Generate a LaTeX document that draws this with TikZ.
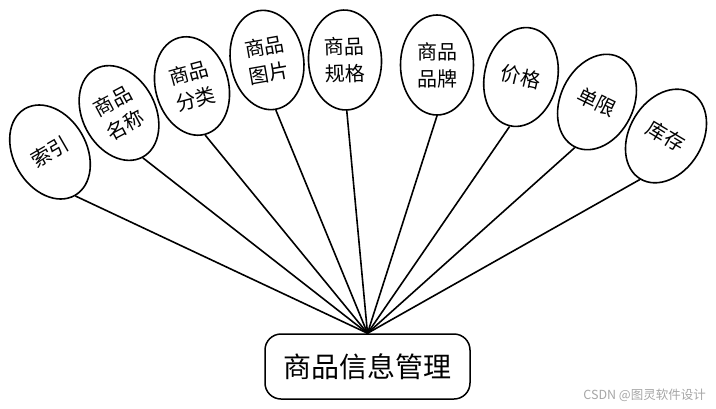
\documentclass[tikz,border=0pt]{standalone}
\usepackage{fontspec}
\newfontfamily\cjk{Noto Sans CJK SC}
\usetikzlibrary{shapes.geometric}
\tikzset{
  attr/.style={draw=black, line width=1.6pt, ellipse, inner sep=0pt,
    minimum width=73pt, minimum height=100pt, align=center,
    font=\cjk\fontsize{20}{27}\selectfont},
  main/.style={draw=black, line width=1.5pt, rounded corners=16pt,
    minimum width=205pt, minimum height=65pt, inner sep=0pt,
    font=\cjk\fontsize{28}{32}\selectfont},
  link/.style={draw=black, line width=1.6pt},
}
\begin{document}
\begin{tikzpicture}[x=1pt,y=-1pt]
\useasboundingbox (0,0) rectangle (716,408);
\node[main] (m) at (367.5,366.5) {商品信息管理};
\node[attr, rotate=30] (a1) at (50,152) {索引};
\node[attr, rotate=28] (a2) at (119,113) {商品\\名称};
\node[attr, rotate=15] (a3) at (192,86) {商品\\分类};
\node[attr, rotate=10] (a4) at (267,60) {商品\\图片};
\node[attr, rotate=2] (a5) at (345,60) {商品\\规格};
\node[attr, rotate=0] (a6) at (437,65) {商品\\品牌};
\node[attr, rotate=-13] (a7) at (521,77) {价格};
\node[attr, rotate=-26] (a8) at (597,102) {单限};
\node[attr, rotate=-31] (a9) at (666,136) {库存};
\foreach \i in {1,...,9} {
  \draw[link] (m.north) -- (a\i.south);
}
\node[text=black!35, font=\cjk\fontsize{12.5}{14}\selectfont, anchor=east, inner sep=0pt] (wm) at (706,395) {CSDN @图灵软件设计};
\end{tikzpicture}
\end{document}
